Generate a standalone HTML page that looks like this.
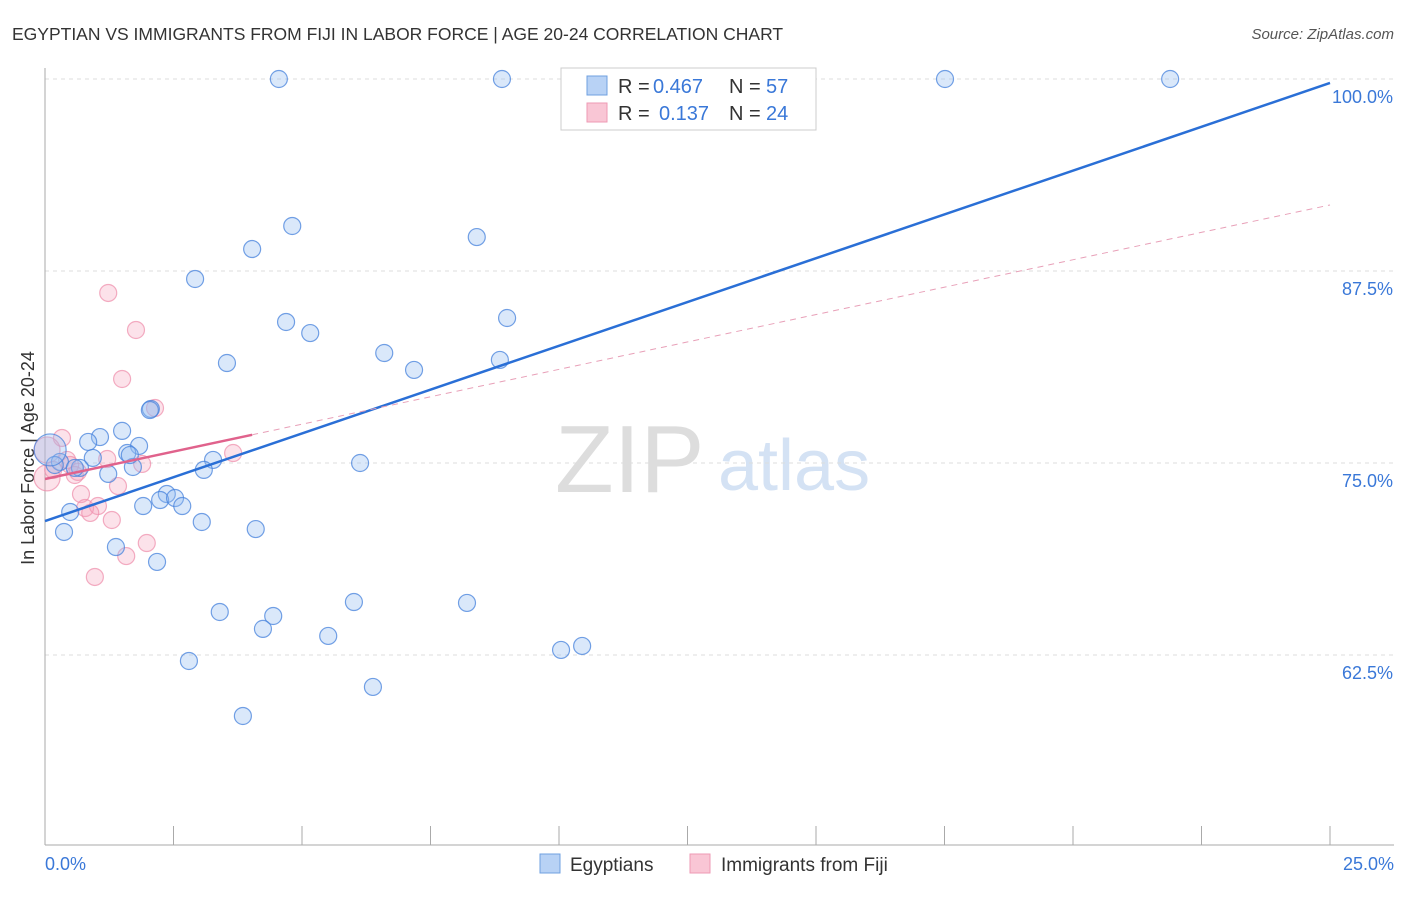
<!DOCTYPE html>
<html><head><meta charset="utf-8"><style>
body{margin:0;background:#fff;font-family:"Liberation Sans",sans-serif}
svg text{font-family:"Liberation Sans",sans-serif}
</style></head><body>
<svg id="chart" width="1406" height="892">
<text x="12" y="40" font-size="17.5" fill="#333">EGYPTIAN VS IMMIGRANTS FROM FIJI IN LABOR FORCE | AGE 20-24 CORRELATION CHART</text>
<text x="1394" y="39" font-size="15" fill="#555" font-style="italic" text-anchor="end">Source: ZipAtlas.com</text>
<text x="0" y="0" transform="translate(34,458) rotate(-90)" font-size="18" fill="#333" text-anchor="middle">In Labor Force | Age 20-24</text>
<text x="555" y="492" font-size="96" fill="#ddd" font-family="Liberation Serif">ZIP</text>
<text x="718" y="490" font-size="72" fill="#d4e2f4">atlas</text>
<g id="grid"></g><g id="axes"></g><g id="pink"></g><g id="blue"></g><g id="lines"></g>
<g>
<rect x="561" y="68" width="255" height="62" fill="#fff" stroke="#ccc"/>
<rect x="587" y="76" width="20" height="19" fill="#b8d2f5" stroke="#6fa0e0"/>
<rect x="587" y="103" width="20" height="19" fill="#f9c6d5" stroke="#ee9ab4"/>
<text x="618" y="93" font-size="20" fill="#333">R =</text>
<text x="653" y="93" font-size="20" fill="#3a78d8">0.467</text>
<text x="729" y="93" font-size="20" fill="#333">N =</text>
<text x="766" y="93" font-size="20" fill="#3a78d8">57</text>
<text x="618" y="120" font-size="20" fill="#333">R =</text>
<text x="659" y="120" font-size="20" fill="#3a78d8">0.137</text>
<text x="729" y="120" font-size="20" fill="#333">N =</text>
<text x="766" y="120" font-size="20" fill="#3a78d8">24</text>
</g>
<g>
<rect x="540" y="854" width="20" height="19" fill="#b8d2f5" stroke="#6fa0e0"/>
<text x="570" y="871" font-size="19" fill="#333">Egyptians</text>
<rect x="690" y="854" width="20" height="19" fill="#f9c6d5" stroke="#ee9ab4"/>
<text x="721" y="871" font-size="19" fill="#333">Immigrants from Fiji</text>
</g>
<text x="45" y="870" font-size="18" fill="#3a78d8">0.0%</text>
<text x="1394" y="870" font-size="18" fill="#3a78d8" text-anchor="end">25.0%</text>
</svg>
<script>
const yTicks=[100,87.5,75,62.5];
const yTickLabels=["100.0%","87.5%","75.0%","62.5%"];
const blueX=[4.55,8.89,13.48,17.51,21.89,4.81,4.03,8.40,2.92,4.69,5.16,8.99,6.60,3.54,7.18,8.85,2.06,1.50,1.07,0.84,1.83,1.60,0.93,0.29,0.19,0.68,1.23,1.71,3.27,3.09,6.13,2.37,2.24,2.53,1.91,2.67,0.49,3.05,4.10,0.37,1.38,2.18,3.40,4.44,4.24,6.01,8.21,5.51,10.04,10.45,2.80,6.38,3.85,0.10,0.58,1.65,2.04];
const blueY=[100,100,100,100,100,90.43,88.93,89.71,86.98,84.18,83.46,84.44,82.16,81.51,81.06,81.71,78.52,77.09,76.69,76.37,76.11,75.65,75.33,75.07,74.87,74.68,74.29,74.74,75.20,74.55,75.00,72.98,72.59,72.72,72.20,72.20,71.81,71.16,70.70,70.51,69.53,68.56,65.30,65.04,64.20,65.95,65.89,63.74,62.83,63.09,62.11,60.42,58.53,75.85,74.68,75.52,78.45];
const pinkX=[1.23,1.77,1.50,2.14,0.33,0.04,1.21,1.89,0.43,0.64,0.16,3.66,1.42,0.70,0.78,1.03,0.88,1.30,1.98,1.58,0.97,0.04,0.49,0.58];
const pinkY=[86.07,83.66,80.47,78.58,76.63,75.85,75.26,74.94,75.20,74.42,74.55,75.65,73.50,72.98,72.07,72.20,71.75,71.29,69.79,68.94,67.58,74.03,74.87,74.22];
const blueLine=[71.22,99.74];
const pinkLine=[73.96,91.8];
const pinkSolidEnd=4.03;
const xTicks=[0,2.5,5,7.5,10,12.5,15,17.5,20,22.5,25];
const NS="http://www.w3.org/2000/svg";
const X=v=>45+v/25*1285, Y=v=>79+(100-v)*15.36;
function mk(p,t,a){const e=document.createElementNS(NS,t);for(const k in a)e.setAttribute(k,a[k]);document.getElementById(p).appendChild(e);return e;}
yTicks.forEach((t,i)=>{
 const l=mk('grid','line',{x1:45,x2:1394,y1:Y(t),y2:Y(t),stroke:'#ddd','stroke-dasharray':'4,4'});
 
 
 const tx=mk('grid','text',{x:1393,y:Y(t)+24,'font-size':18,fill:'#3a78d8','text-anchor':'end'});
 tx.textContent=yTickLabels[i];
 
 
});
const ax=mk('axes','line',{x1:45,x2:45,y1:68,y2:845,stroke:'#aaa'});


const bx=mk('axes','line',{x1:45,x2:1394,y1:845,y2:845,stroke:'#aaa'});


xTicks.forEach(t=>{const e=mk('axes','line',{x1:X(t),x2:X(t),y1:826,y2:845,stroke:'#aaa'});
 
 });
pinkX.forEach((v,i)=>{const big=(i===5||i===21);
 const c=mk('pink','circle',{cx:X(v),cy:Y(pinkY[i]),r:big?13:8.5,fill:'rgba(244,160,185,0.3)',stroke:'rgba(238,140,170,0.7)','stroke-width':1.2});
 
 });
blueX.forEach((v,i)=>{const big=(i===53);
 const c=mk('blue','circle',{cx:X(v),cy:Y(blueY[i]),r:big?16:8.5,fill:'rgba(150,190,240,0.35)',stroke:'rgba(70,130,220,0.75)','stroke-width':1.2});
 
 });
const bl=mk('lines','line',{x1:X(0),y1:Y(blueLine[0]),x2:X(25),y2:Y(blueLine[1]),stroke:'#2a6fd6','stroke-width':2.5});


const pm=pinkLine[0]+(pinkLine[1]-pinkLine[0])*pinkSolidEnd/25;
const pl=mk('lines','line',{x1:X(0),y1:Y(pinkLine[0]),x2:X(pinkSolidEnd),y2:Y(pm),stroke:'#e0628c','stroke-width':2.5});


const pd=mk('lines','line',{x1:X(pinkSolidEnd),y1:Y(pm),x2:X(25),y2:Y(pinkLine[1]),stroke:'#e8a0b8','stroke-width':1,'stroke-dasharray':'6,5'});


</script>
</body></html>
